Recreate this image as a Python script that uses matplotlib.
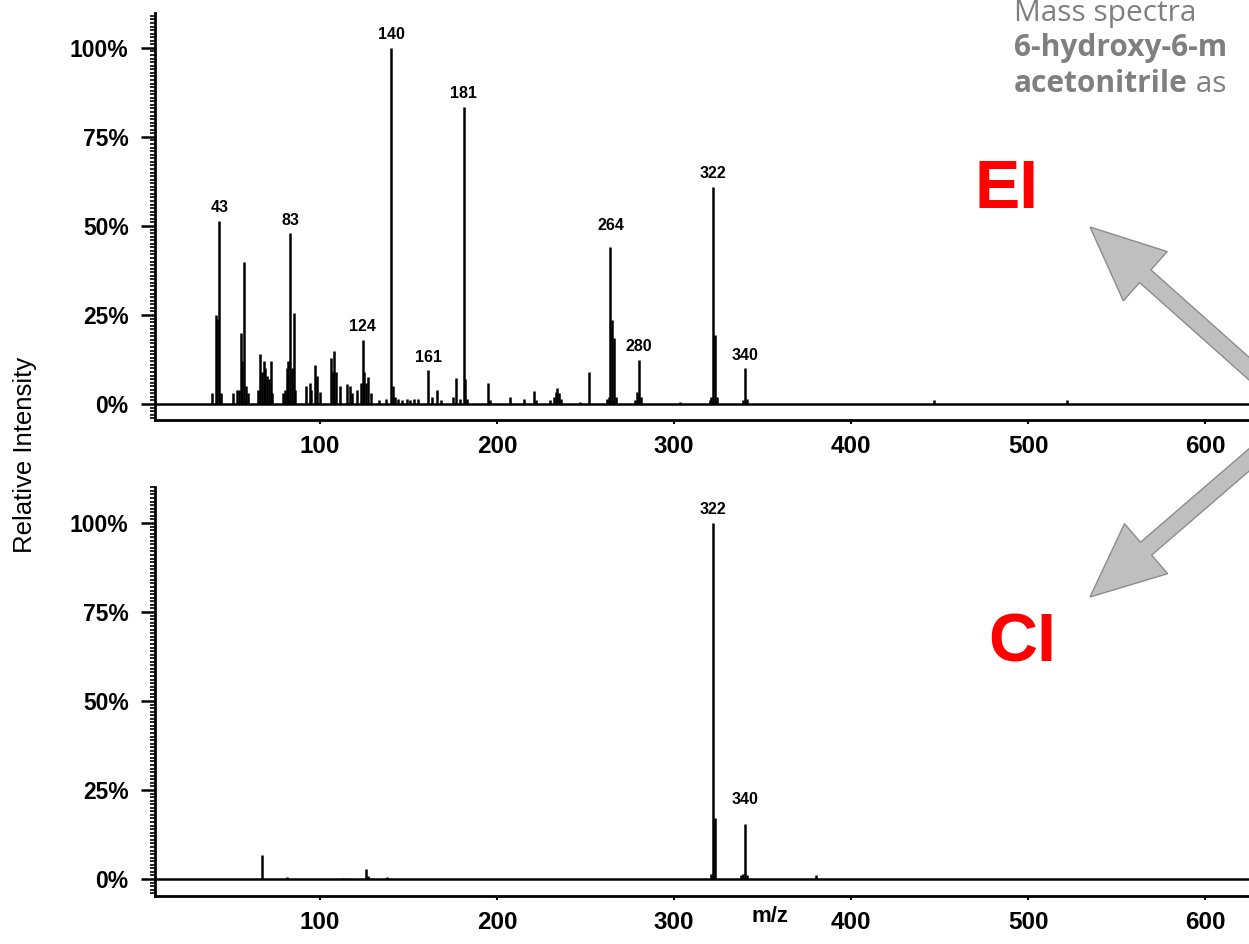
import numpy as np
import matplotlib.pyplot as plt
from matplotlib.patches import FancyArrow
from matplotlib.ticker import MultipleLocator

# EI spectrum: m/z and relative intensity (%)
ei_mz = [39, 41, 42, 43, 44, 51, 53, 54, 55, 56, 57, 58, 59,
         65, 66, 67, 68, 69, 70, 71, 72, 73,
         79, 80, 81, 82, 83, 84, 85, 86,
         92, 94, 95, 97, 98, 100, 106, 107, 108, 109, 111,
         115, 117, 118, 121, 123, 124, 125, 126, 127, 129, 133, 137,
         140, 141, 142, 144, 146, 149, 151, 153, 155,
         161, 163, 166, 168, 175, 177, 179, 181, 182, 183,
         195, 196, 207, 215, 221, 222, 230, 232, 233, 234, 235, 236,
         247, 252, 262, 263, 264, 265, 266, 267, 278, 279, 280, 281,
         303, 320, 321, 322, 323, 324, 339, 340, 341, 447, 522]
ei_int = [3, 25, 24, 51.5, 3, 3, 4, 4, 20, 12, 40, 5, 3,
          4, 14, 9, 12, 10, 8, 7, 12, 3,
          3, 4, 10, 12, 48, 10, 25.5, 4,
          5, 6, 4, 11, 8, 3.5, 13, 9, 15, 9, 5,
          5.5, 5, 3, 4, 6, 18, 9, 6, 7.5, 3, 1, 1.5,
          100, 5, 2, 1.5, 1, 1.5, 1, 1.5, 1.5,
          9.5, 2, 4, 1, 2, 7.3, 1.5, 83.5, 7, 1.5,
          5.8, 1, 2, 1.5, 3.7, 1, 1, 2, 3.5, 4.5, 3, 1.5,
          0.5, 9, 1.5, 2, 44, 23.6, 18.5, 2, 1, 3.5, 12.4, 2,
          0.5, 1, 2, 61, 19.5, 2, 1, 10, 1.5, 1, 1.2]
ei_labels = [43, 83, 124, 140, 161, 181, 264, 280, 322, 340]

# CI spectrum
ci_mz = [67, 81, 113, 126, 127, 138, 321, 322, 323, 338, 339, 340, 341, 380]
ci_int = [6.7, 0.5, 0.3, 2.8, 0.8, 0.5, 1.5, 100, 17, 1, 1.5, 15.4, 1, 1]
ci_labels = [322, 340]

x_ticks = [100, 200, 300, 400, 500, 600]
y_ticks = [0, 25, 50, 75, 100]

plt.rcParams['font.family'] = ['Liberation Sans', 'DejaVu Sans']

W, H = 1249, 944
fig = plt.figure(figsize=(W / 100, H / 100), dpi=100)


def draw_spectrum(top_px, bottom_px, ylim, mz, inten, labels, lifts):
    ax = fig.add_axes([155 / W, 1 - bottom_px / H, 1 - 155 / W, (bottom_px - top_px) / H])
    ax.vlines(mz, 0, inten, color='black', lw=1.8)
    ax.axhline(0, color='black', lw=1.8)
    lookup = dict(zip(mz, inten))
    for m in labels:
        ax.annotate(str(m), (m, lookup[m]), xytext=(0, 4 + lifts.get(m, 0)),
                    textcoords='offset points', ha='center', va='bottom',
                    fontsize=11.5, fontweight='bold')
    ax.set_xlim(6.7, 624.7)
    ax.set_ylim(*ylim)
    ax.set_xticks(x_ticks)
    ax.set_yticks(y_ticks)
    ax.set_yticklabels([f'{v}%' for v in y_ticks])
    ax.yaxis.set_minor_locator(MultipleLocator(1))
    for s in ['top', 'right']:
        ax.spines[s].set_visible(False)
    for s in ['left', 'bottom']:
        ax.spines[s].set_linewidth(2)
    ax.tick_params(axis='y', which='major', length=10, width=1.8, pad=9, labelsize=16.5)
    ax.tick_params(axis='y', which='minor', length=3.5, width=1.2)
    ax.tick_params(axis='x', which='major', length=3, width=1.5, pad=8, labelsize=17.5)
    for t in ax.get_xticklabels() + ax.get_yticklabels():
        t.set_fontweight('bold')
    return ax


ax1 = draw_spectrum(13, 420, (-4.49, 109.8), ei_mz, ei_int, ei_labels, {264: 6})
ax2 = draw_spectrum(487, 896, (-4.78, 110.1), ci_mz, ci_int, ci_labels, {340: 8})

fig.text(25 / W, 1 - 455 / H, 'Relative Intensity', rotation=90, ha='center', va='center',
         fontsize=18.5)
fig.text(770 / W, 1 - 916 / H, 'm/z', ha='center', va='center', fontsize=16, fontweight='bold')

# overlay in pixel coordinates for annotations
ov = fig.add_axes([0, 0, 1, 1], facecolor='none')
ov.set_xlim(0, W)
ov.set_ylim(H, 0)
ov.axis('off')

ov.add_patch(FancyArrow(1300, 414, -210, -187, width=17, head_width=66, head_length=74,
                        length_includes_head=True, fc='#bfbfbf', ec='#8c8c8c', lw=1))
ov.add_patch(FancyArrow(1300, 416, -210, 181, width=17, head_width=66, head_length=74,
                        length_includes_head=True, fc='#bfbfbf', ec='#8c8c8c', lw=1))

ov.text(1007, 190, 'EI', color='#ff0000', fontsize=49, fontweight='bold', ha='center', va='center')
ov.text(1022, 643, 'CI', color='#ff0000', fontsize=49, fontweight='bold', ha='center', va='center')

gray = '#7f7f7f'
ov.text(1014, 21, 'Mass spectra', color=gray, fontsize=21.5, family='Open Sans', va='baseline')
ov.text(1014, 56, '6-hydroxy-6-m', color=gray, fontsize=21.5, family='Open Sans',
        fontweight='bold', va='baseline')
t = ov.text(1014, 92, 'acetonitrile', color=gray, fontsize=21.5, family='Open Sans',
            fontweight='bold', va='baseline')
ov.annotate(' as', xycoords=t, xy=(1, 0), va='bottom', color=gray, fontsize=21.5,
            family='Open Sans')

fig.savefig('out.png', dpi=100)
